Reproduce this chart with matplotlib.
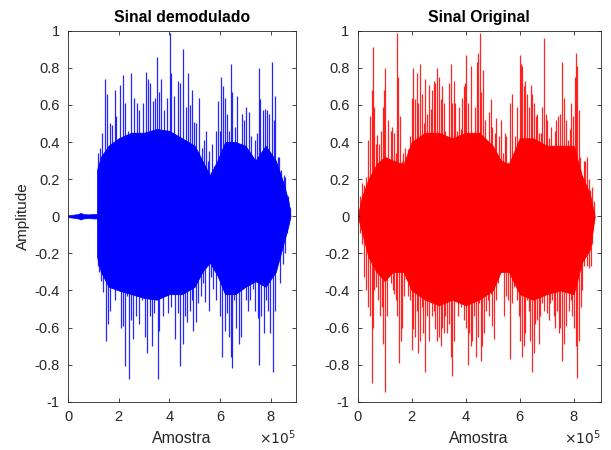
import numpy as np
import matplotlib
matplotlib.use('Agg')
import matplotlib.pyplot as plt

plt.rcParams['font.family'] = ['Liberation Sans', 'DejaVu Sans']

# eixo x em unidades de 1e5 amostras

# --- Sinal demodulado (azul) ---
# trecho inicial de baixa amplitude antes do sinal
pre_x = [0.0, 0.2, 0.4, 0.5, 0.6, 0.8, 1.0, 1.15]
pre_hi = [0.005, 0.008, 0.012, 0.018, 0.012, 0.01, 0.012, 0.012]

# corpo denso do sinal (envoltória aproximada)
dem_body_x = [1.15, 1.3, 1.6, 2.0, 2.5, 3.0, 3.5, 4.0, 4.5, 5.0, 5.3, 5.6, 5.9, 6.2,
              6.6, 7.0, 7.4, 7.8, 8.2, 8.5, 8.7, 8.78]
dem_body_hi = [0.25, 0.32, 0.38, 0.42, 0.45, 0.45, 0.47, 0.46, 0.42, 0.38, 0.3, 0.22,
               0.3, 0.4, 0.4, 0.38, 0.3, 0.38, 0.3, 0.18, 0.08, 0.0]
dem_body_lo = [-0.22, -0.3, -0.38, -0.4, -0.42, -0.44, -0.45, -0.42, -0.42, -0.38, -0.3,
               -0.25, -0.32, -0.42, -0.42, -0.38, -0.35, -0.38, -0.3, -0.15, -0.05, 0.0]

# picos positivos
dem_up_x = [1.19, 1.25, 1.35, 1.45, 1.52, 1.65, 1.74, 1.84, 1.91, 2.07, 2.17, 2.26, 2.37,
            2.50, 2.59, 2.72, 2.82, 2.95, 3.06, 3.15, 3.24, 3.35, 3.44, 3.52, 3.58, 3.67,
            3.80, 3.90, 4.04, 4.08, 4.20, 4.33, 4.42, 4.55, 4.65, 4.72, 4.82, 4.91, 4.98,
            5.07, 5.18, 5.28, 5.37, 5.44, 5.53, 5.57, 5.63, 5.70, 5.76, 5.83, 5.92, 5.99,
            6.05, 6.12, 6.18, 6.29, 6.35, 6.44, 6.48, 6.58, 6.68, 6.77, 6.85, 6.94, 7.03,
            7.14, 7.23, 7.31, 7.40, 7.45, 7.53, 7.59, 7.69, 7.76, 7.86, 7.95, 8.05, 8.12,
            8.18, 8.27, 8.34, 8.42, 8.51, 8.58, 8.68, 8.75]
dem_up_y = [0.34, 0.37, 0.45, 0.74, 0.66, 0.50, 0.49, 0.68, 0.54, 0.71, 0.76, 0.61, 0.46,
            0.77, 0.64, 0.61, 0.57, 0.61, 0.78, 0.74, 0.72, 0.62, 0.64, 0.86, 0.67, 0.74,
            0.57, 0.64, 0.99, 0.77, 0.65, 0.73, 0.72, 0.90, 0.59, 0.77, 0.60, 0.68, 0.51,
            0.50, 0.64, 0.37, 0.41, 0.46, 0.30, 0.35, 0.24, 0.39, 0.27, 0.46, 0.62, 0.46,
            0.75, 0.70, 0.64, 0.55, 0.46, 0.82, 0.67, 0.48, 0.65, 0.37, 0.55, 0.52, 0.59,
            0.56, 0.43, 0.25, 0.41, 0.45, 0.80, 0.63, 0.57, 0.58, 0.57, 0.55, 0.83, 0.52,
            0.65, 0.32, 0.32, 0.25, 0.22, 0.21, 0.11, 0.05]

# picos negativos
dem_dn_x = [1.19, 1.23, 1.32, 1.39, 1.48, 1.58, 1.67, 1.78, 1.87, 1.97, 2.08, 2.17, 2.26,
            2.34, 2.41, 2.47, 2.56, 2.67, 2.76, 2.82, 2.91, 3.02, 3.11, 3.22, 3.32, 3.41,
            3.54, 3.61, 3.74, 3.84, 3.93, 4.06, 4.13, 4.23, 4.33, 4.43, 4.52, 4.61, 4.69,
            4.81, 4.88, 4.95, 5.05, 5.15, 5.24, 5.33, 5.41, 5.50, 5.57, 5.65, 5.74, 5.83,
            5.92, 6.00, 6.09, 6.18, 6.26, 6.35, 6.42, 6.46, 6.55, 6.64, 6.74, 6.84, 6.91,
            7.01, 7.10, 7.20, 7.29, 7.40, 7.49, 7.55, 7.63, 7.73, 7.82, 7.90, 7.99, 8.08,
            8.18, 8.27, 8.38, 8.47, 8.58, 8.65, 8.73]
dem_dn_y = [-0.27, -0.30, -0.35, -0.41, -0.67, -0.58, -0.51, -0.34, -0.45, -0.36, -0.60,
            -0.59, -0.81, -0.43, -0.88, -0.56, -0.66, -0.54, -0.43, -0.58, -0.45, -0.65,
            -0.74, -0.54, -0.70, -0.52, -0.88, -0.62, -0.54, -0.43, -0.52, -0.49, -0.38,
            -0.66, -0.52, -0.81, -0.69, -0.54, -0.57, -0.51, -0.45, -0.62, -0.57, -0.47,
            -0.43, -0.36, -0.46, -0.25, -0.51, -0.33, -0.39, -0.45, -0.31, -0.54, -0.76,
            -0.62, -0.52, -0.65, -0.76, -0.82, -0.45, -0.60, -0.69, -0.65, -0.39, -0.45,
            -0.51, -0.45, -0.39, -0.51, -0.55, -0.80, -0.54, -0.63, -0.45, -0.51, -0.63,
            -0.84, -0.51, -0.16, -0.36, -0.26, -0.20, -0.09, -0.02]

# --- Sinal original (vermelho) ---
ori_body_x = [0.0, 0.15, 0.4, 0.7, 1.0, 1.3, 1.7, 2.0, 2.5, 3.0, 3.5, 4.0, 4.5, 5.0,
              5.3, 5.6, 6.0, 6.5, 7.0, 7.5, 8.0, 8.3, 8.6, 8.78]
ori_body_hi = [0.0, 0.1, 0.2, 0.28, 0.32, 0.3, 0.28, 0.4, 0.45, 0.45, 0.42, 0.45, 0.45,
               0.38, 0.3, 0.28, 0.42, 0.42, 0.38, 0.38, 0.38, 0.22, 0.12, 0.0]
ori_body_lo = [0.0, -0.08, -0.22, -0.3, -0.35, -0.3, -0.3, -0.4, -0.45, -0.48, -0.45,
               -0.48, -0.45, -0.4, -0.3, -0.3, -0.42, -0.45, -0.42, -0.4, -0.42, -0.25,
               -0.18, 0.0]

ori_up_x = [0.09, 0.15, 0.23, 0.31, 0.39, 0.45, 0.52, 0.55, 0.60, 0.68, 0.73, 0.80, 0.86,
            0.92, 0.98, 1.03, 1.11, 1.17, 1.22, 1.28, 1.34, 1.42, 1.47, 1.50, 1.56, 1.63,
            1.69, 1.75, 1.81, 1.87, 1.93, 2.00, 2.06, 2.12, 2.18, 2.24, 2.30, 2.37, 2.45,
            2.51, 2.58, 2.64, 2.70, 2.76, 2.82, 2.88, 2.94, 3.01, 3.07, 3.13, 3.19, 3.25,
            3.31, 3.38, 3.44, 3.50, 3.56, 3.62, 3.68, 3.75, 3.81, 3.87, 3.93, 3.99, 4.03,
            4.09, 4.18, 4.25, 4.34, 4.42, 4.47, 4.52, 4.58, 4.65, 4.71, 4.79, 4.87, 4.93,
            4.99, 5.08, 5.14, 5.23, 5.30, 5.39, 5.45, 5.51, 5.57, 5.66, 5.72, 5.78, 5.84,
            5.90, 6.00, 6.04, 6.10, 6.15, 6.21, 6.27, 6.35, 6.41, 6.47, 6.53, 6.59, 6.66,
            6.72, 6.78, 6.84, 6.90, 6.96, 7.03, 7.09, 7.15, 7.23, 7.30, 7.36, 7.42, 7.48,
            7.57, 7.63, 7.70, 7.79, 7.85, 7.91, 7.97, 8.04, 8.07, 8.12, 8.18, 8.25, 8.31,
            8.37, 8.43, 8.49, 8.55, 8.62, 8.68, 8.74]
ori_up_y = [0.11, 0.18, 0.17, 0.21, 0.41, 0.54, 0.68, 0.91, 0.59, 0.39, 0.44, 0.39, 0.46,
            0.59, 0.68, 0.80, 0.52, 0.21, 0.46, 0.48, 0.45, 0.34, 0.99, 0.75, 0.54, 0.30,
            0.34, 0.37, 0.27, 0.36, 0.43, 0.64, 0.80, 0.63, 0.77, 0.61, 0.82, 0.66, 0.50,
            0.74, 0.55, 0.71, 0.58, 0.68, 0.73, 0.72, 0.80, 0.75, 0.63, 0.70, 0.61, 0.46,
            0.43, 0.72, 0.82, 0.61, 0.73, 0.61, 0.46, 0.59, 0.47, 0.64, 0.70, 0.72, 0.87,
            0.61, 0.81, 0.43, 0.59, 0.83, 0.88, 0.99, 0.67, 0.79, 0.52, 0.30, 0.56, 0.63,
            0.48, 0.45, 0.53, 0.43, 0.52, 0.34, 0.45, 0.43, 0.29, 0.61, 0.66, 0.17, 0.43,
            0.59, 0.87, 0.82, 0.81, 0.70, 0.73, 0.66, 0.59, 0.71, 0.66, 0.61, 0.54, 0.55,
            0.45, 0.45, 0.59, 0.96, 0.55, 0.52, 0.42, 0.48, 0.35, 0.46, 0.52, 0.54, 0.55,
            0.83, 0.64, 0.52, 0.41, 0.47, 0.61, 0.54, 0.75, 0.88, 0.81, 0.57, 0.32, 0.21,
            0.30, 0.30, 0.32, 0.20, 0.14, 0.16, 0.08]

ori_dn_x = [0.09, 0.15, 0.23, 0.31, 0.39, 0.45, 0.52, 0.55, 0.60, 0.68, 0.76, 0.82, 0.89,
            0.95, 1.01, 1.07, 1.17, 1.23, 1.29, 1.35, 1.42, 1.47, 1.53, 1.59, 1.66, 1.72,
            1.79, 1.85, 1.93, 2.00, 2.06, 2.12, 2.18, 2.24, 2.30, 2.37, 2.43, 2.51, 2.58,
            2.64, 2.70, 2.76, 2.82, 2.88, 2.94, 3.01, 3.07, 3.13, 3.19, 3.25, 3.31, 3.38,
            3.44, 3.51, 3.57, 3.64, 3.70, 3.76, 3.82, 3.88, 3.94, 4.01, 4.07, 4.13, 4.19,
            4.25, 4.31, 4.37, 4.44, 4.50, 4.56, 4.62, 4.68, 4.74, 4.81, 4.87, 4.93, 4.99,
            5.05, 5.11, 5.18, 5.24, 5.30, 5.36, 5.42, 5.48, 5.57, 5.66, 5.72, 5.78, 5.84,
            5.90, 5.97, 6.03, 6.09, 6.15, 6.21, 6.27, 6.33, 6.40, 6.46, 6.52, 6.58, 6.64,
            6.70, 6.77, 6.83, 6.89, 6.95, 7.01, 7.07, 7.14, 7.20, 7.26, 7.32, 7.38, 7.44,
            7.51, 7.58, 7.64, 7.70, 7.77, 7.83, 7.89, 7.95, 8.01, 8.07, 8.13, 8.20, 8.26,
            8.32, 8.38, 8.44, 8.50, 8.57, 8.63, 8.69, 8.75]
ori_dn_y = [-0.09, -0.15, -0.33, -0.40, -0.49, -0.54, -0.90, -0.60, -0.40, -0.38, -0.45,
            -0.54, -0.49, -0.69, -0.95, -0.54, -0.27, -0.36, -0.40, -0.42, -0.45, -0.54,
            -0.79, -0.67, -0.60, -0.43, -0.34, -0.43, -0.45, -0.72, -0.61, -0.65, -0.51,
            -0.74, -0.67, -0.49, -0.63, -0.84, -0.54, -0.67, -0.45, -0.54, -0.51, -0.61,
            -0.67, -0.65, -0.70, -0.60, -0.63, -0.54, -0.63, -0.58, -0.76, -0.86, -0.67,
            -0.45, -0.54, -0.38, -0.49, -0.45, -0.56, -0.60, -0.80, -0.63, -0.70, -0.67,
            -0.54, -0.76, -0.65, -0.47, -0.78, -0.70, -0.63, -0.51, -0.45, -0.54, -0.42,
            -0.59, -0.66, -0.45, -0.36, -0.30, -0.27, -0.29, -0.54, -0.43, -0.45, -0.77,
            -0.47, -0.38, -0.33, -0.45, -0.54, -0.67, -0.76, -0.70, -0.63, -0.45, -0.51,
            -0.67, -0.84, -0.74, -0.58, -0.56, -0.69, -0.54, -0.47, -0.51, -0.40, -0.52,
            -0.56, -0.47, -0.45, -0.54, -0.60, -0.51, -0.63, -0.60, -0.78, -0.69, -0.59,
            -0.38, -0.51, -0.45, -0.54, -0.60, -0.70, -0.87, -0.67, -0.49, -0.40, -0.27,
            -0.18, -0.27, -0.28, -0.27, -0.15, -0.02]

x_ticks = [0, 2, 4, 6, 8]
y_ticks = [-1, -0.8, -0.6, -0.4, -0.2, 0, 0.2, 0.4, 0.6, 0.8, 1]
y_tick_labels = ['-1', '-0.8', '-0.6', '-0.4', '-0.2', '0', '0.2', '0.4', '0.6', '0.8', '1']

escala = 1e5
fig = plt.figure(figsize=(6.11, 4.5), dpi=100)
ax1 = fig.add_axes([0.1113, 0.1073, 0.3732, 0.8244])
ax2 = fig.add_axes([0.5854, 0.1073, 0.3977, 0.8244])


def desenha(ax, cor, body_x, body_hi, body_lo, up_x, up_y, dn_x, dn_y):
    bx = np.array(body_x) * escala
    ax.fill_between(bx, body_lo, body_hi, color=cor, linewidth=0.6, edgecolor=cor)
    ax.vlines(np.array(up_x) * escala, 0, up_y, color=cor, linewidth=0.9, alpha=0.85)
    ax.vlines(np.array(dn_x) * escala, dn_y, 0, color=cor, linewidth=0.9, alpha=0.85)


desenha(ax1, (0, 0, 1), dem_body_x, dem_body_hi, dem_body_lo,
        dem_up_x, dem_up_y, dem_dn_x, dem_dn_y)
px = np.array(pre_x) * escala
ax1.fill_between(px, -np.array(pre_hi), pre_hi, color=(0, 0, 1), linewidth=0.5)
ax1.plot(px, np.zeros(len(px)), color=(0, 0, 1), linewidth=0.8)

desenha(ax2, (1, 0, 0), ori_body_x, ori_body_hi, ori_body_lo,
        ori_up_x, ori_up_y, ori_dn_x, ori_dn_y)

cinza = '#262626'
for ax, titulo in [(ax1, 'Sinal demodulado'), (ax2, 'Sinal Original')]:
    ax.set_xlim(0, 9e5)
    ax.set_ylim(-1, 1)
    ax.set_xticks([t * escala for t in x_ticks])
    ax.set_xticklabels([str(t) for t in x_ticks])
    ax.set_yticks(y_ticks)
    ax.set_yticklabels(y_tick_labels)
    ax.tick_params(direction='in', length=3, width=0.6, top=True, right=True,
                   labelsize=10.5, colors=cinza, pad=6)
    for sp in ax.spines.values():
        sp.set_color(cinza)
        sp.set_linewidth(0.6)
    ax.set_title(titulo, fontsize=11.3, fontweight='bold', pad=6)
    ax.set_xlabel('Amostra', fontsize=11.5, color=cinza, labelpad=5)
    ax.text(1.0, -0.097, r'$\times10^{5}$', transform=ax.transAxes, ha='right',
            va='center', fontsize=10, color=cinza)

ax1.set_ylabel('Amplitude', fontsize=11, color=cinza, labelpad=3)

fig.savefig('out.png', dpi=100)
